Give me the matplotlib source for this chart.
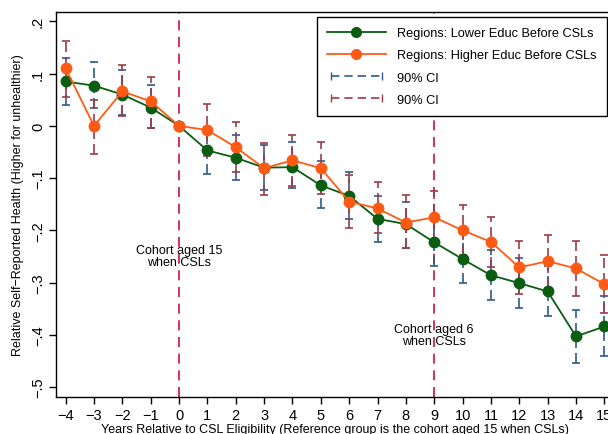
import numpy as np
import matplotlib
matplotlib.use('Agg')
import matplotlib.pyplot as plt
from matplotlib.lines import Line2D
from matplotlib.legend_handler import HandlerLine2D

plt.rcParams['font.family'] = ['Liberation Sans', 'DejaVu Sans']

years = [-4, -3, -2, -1, 0, 1, 2, 3, 4, 5, 6, 7, 8, 9, 10, 11, 12, 13, 14, 15]

# regions with lower education before CSLs
lower = [0.085, 0.077, 0.060, 0.035, 0.0, -0.047, -0.061, -0.080, -0.079, -0.114,
         -0.134, -0.178, -0.188, -0.223, -0.255, -0.286, -0.301, -0.317, -0.403, -0.384]
lower_lo = [0.040, 0.035, 0.020, -0.005, 0.0, -0.092, -0.103, -0.123, -0.119, -0.157,
            -0.178, -0.222, -0.234, -0.268, -0.301, -0.333, -0.348, -0.363, -0.454, -0.440]
lower_hi = [0.130, 0.123, 0.107, 0.079, 0.0, -0.002, -0.017, -0.037, -0.031, -0.068,
            -0.088, -0.134, -0.145, -0.178, -0.207, -0.238, -0.253, -0.268, -0.352, -0.326]

# regions with higher education before CSLs
higher = [0.110, 0.0, 0.066, 0.047, 0.0, -0.008, -0.041, -0.081, -0.066, -0.081,
          -0.145, -0.158, -0.185, -0.175, -0.200, -0.222, -0.271, -0.259, -0.273, -0.303]
higher_lo = [0.056, -0.054, 0.018, -0.004, 0.0, -0.057, -0.089, -0.132, -0.116, -0.130,
             -0.196, -0.206, -0.234, -0.226, -0.248, -0.271, -0.322, -0.310, -0.325, -0.358]
higher_hi = [0.163, 0.050, 0.116, 0.093, 0.0, 0.041, 0.007, -0.033, -0.017, -0.031,
             -0.094, -0.108, -0.133, -0.124, -0.151, -0.174, -0.220, -0.208, -0.220, -0.247]

yticks = [0.2, 0.1, 0, -0.1, -0.2, -0.3, -0.4, -0.5]
ytick_labels = ['.2', '.1', '0', '\u2212.1', '\u2212.2', '\u2212.3', '\u2212.4', '\u2212.5']

green = '#0b5d12'
orange = '#ff5a14'
blue_ci = '#2c5b8c'
red_ci = '#9b3c48'
vline_col = '#cc1040'

fig = plt.figure(figsize=(6.08, 4.35), dpi=100)
ax = fig.add_axes([56 / 608, 1 - 398 / 435, 558 / 608, 385 / 435])

x = np.array(years)


def draw_ci(lo, hi, col):
    lo = np.array(lo)
    hi = np.array(hi)
    mid = (lo + hi) / 2
    eb = ax.errorbar(x, mid, yerr=[mid - lo, hi - mid], fmt='none', ecolor=col,
                     elinewidth=1.2, capsize=2.6, capthick=1.2, zorder=2)
    eb[2][0].set_linestyle((0, (6, 3)))


draw_ci(lower_lo, lower_hi, blue_ci)
draw_ci(higher_lo, higher_hi, red_ci)

ax.plot(x, lower, color=green, marker='o', markersize=7.5, linewidth=1.3, zorder=4)
ax.plot(x, higher, color=orange, marker='o', markersize=7.5, linewidth=1.3, zorder=5)

ax.axvline(0, color=vline_col, linestyle=(0, (6, 4)), linewidth=1.2, zorder=1)
ax.axvline(9, color=vline_col, linestyle=(0, (6, 4)), linewidth=1.2, zorder=1)

ax.text(0, -0.249, 'Cohort aged 15\nwhen CSLs', ha='center', va='center', fontsize=9,
        linespacing=1.0, zorder=6)
ax.text(9, -0.40, 'Cohort aged 6\nwhen CSLs', ha='center', va='center', fontsize=9,
        linespacing=1.0, zorder=6)

ax.set_xlim(-4.34, 15.34)
ax.set_ylim(-0.519, 0.218)
ax.set_xticks(years)
ax.set_xticklabels([str(v).replace('-', '\u2212') for v in years], fontsize=10.5)
ax.set_yticks(yticks)
ax.set_yticklabels(ytick_labels, fontsize=10.5, rotation=90, va='center')
ax.tick_params(direction='out', length=5, width=1, pad=3)
for s in ax.spines.values():
    s.set_linewidth(1)

ax.set_xlabel('Years Relative to CSL Eligibility (Reference group is the cohort aged 15 when CSLs)',
              fontsize=9, labelpad=1)
ax.set_ylabel('Relative Self\u2212Reported Health (Higher for unhealthier)', fontsize=9, labelpad=5)

handles = [
    Line2D([], [], color=green, marker='o', markersize=7, linewidth=1.3),
    Line2D([], [], color=orange, marker='o', markersize=7, linewidth=1.3),
    Line2D([], [], color=blue_ci, marker='|', markersize=6, linewidth=1.2, linestyle=(0, (5, 3))),
    Line2D([], [], color=red_ci, marker='|', markersize=6, linewidth=1.2, linestyle=(0, (5, 3))),
]
labels = ['Regions: Lower Educ Before CSLs', 'Regions: Higher Educ Before CSLs', '90% CI', '90% CI']
leg = ax.legend(handles, labels, loc='upper right', bbox_to_anchor=(0.9875, 0.987),
                borderaxespad=0, fontsize=9.2, handlelength=4.6, handletextpad=0.9,
                labelspacing=0.8, borderpad=0.8,
                fancybox=False, edgecolor='black', framealpha=1,
                handler_map={handles[2]: HandlerLine2D(numpoints=2),
                             handles[3]: HandlerLine2D(numpoints=2)})
leg.get_frame().set_linewidth(1)
leg.set_zorder(10)

fig.savefig('out.png', dpi=100)
